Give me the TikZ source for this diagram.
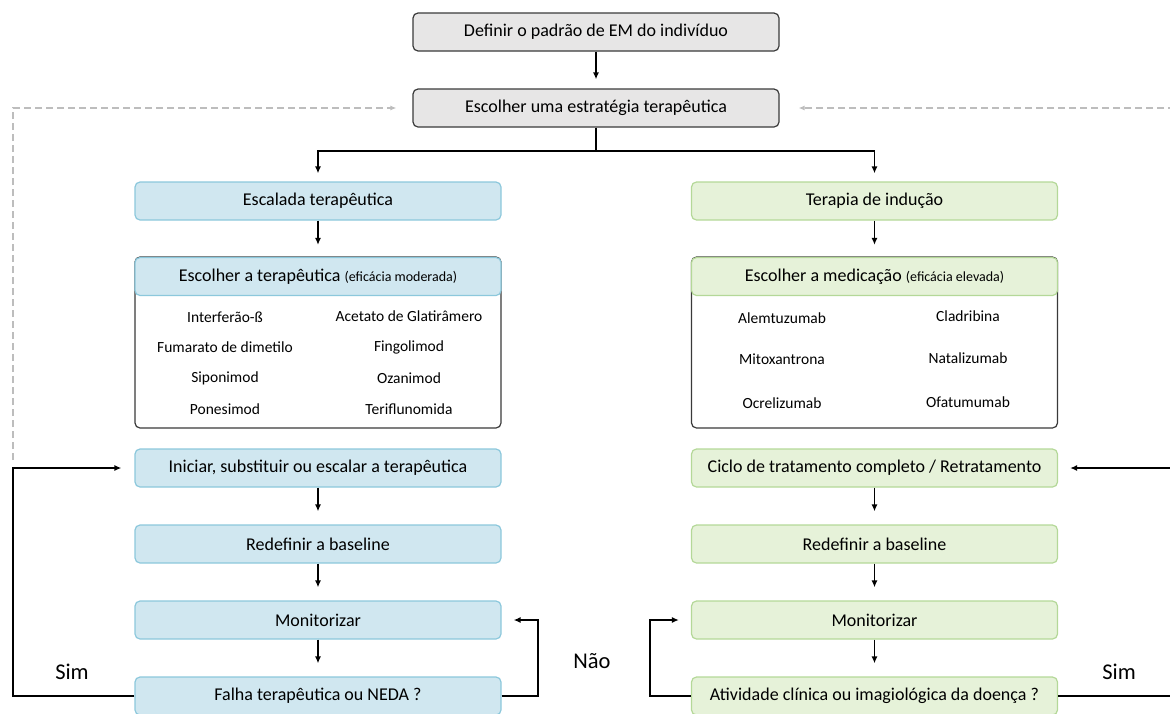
\documentclass[tikz,border=0pt]{standalone}
\usepackage{fontspec}
\setmainfont{Carlito}
\usetikzlibrary{arrows.meta}
\definecolor{gfill}{HTML}{E7E6E6}
\definecolor{gdraw}{HTML}{3A3A3A}
\definecolor{bfill}{HTML}{D0E7F0}
\definecolor{bdraw}{HTML}{8CC8DC}
\definecolor{grfill}{HTML}{E6F2D9}
\definecolor{grdraw}{HTML}{B4D898}
\definecolor{dashc}{HTML}{BDBDBD}
\tikzset{
  basebox/.style={rounded corners=5pt, minimum width=366pt, minimum height=38pt, line width=1.2pt, inner sep=0pt,
    font=\fontsize{18}{21}\selectfont},
  gbox/.style={basebox, draw=gdraw, fill=gfill},
  bbox/.style={basebox, draw=bdraw, fill=bfill},
  grbox/.style={basebox, draw=grdraw, fill=grfill},
  listbox/.style={rounded corners=5pt, minimum width=366pt, minimum height=171pt, line width=1.2pt, draw=gdraw, fill=white},
  item/.style={font=\fontsize{15.5}{18}\selectfont, inner sep=0pt},
  arr/.style={line width=1.8pt, -{Latex[length=7pt,width=6pt]}},
  darr/.style={line width=2pt, dashc, dash pattern=on 7pt off 4pt, -{Latex[length=6pt,width=5pt]}},
  lab/.style={font=\fontsize{22.5}{26}\selectfont, inner sep=0pt}
}
\newcommand{\sm}[1]{{\fontsize{14}{16}\selectfont #1}}
\begin{document}
\begin{tikzpicture}[x=1pt,y=-1pt]
\useasboundingbox (0,0) rectangle (1170,713);
\clip (0,0) rectangle (1170,713);
% top
\node[gbox] (def) at (596,32) {Definir o padrão de EM do indivíduo};
\node[gbox] (str) at (596,108) {Escolher uma estratégia terapêutica};
% left column
\node[bbox] (esc) at (318,201) {Escalada terapêutica};
\node[listbox] (listL) at (318,342.5) {};
\node[bbox] (hdrL) at (318,276.5) {Escolher a terapêutica \sm{(eficácia moderada)}};
\node[item] (l1) at (225,317) {Interferão-ß};
\node[item] (l2) at (225,347) {Fumarato de dimetilo};
\node[item] (l3) at (225,378) {Siponimod};
\node[item] (l4) at (225,409) {Ponesimod};
\node[item] (l5) at (409,316) {Acetato de Glatirâmero};
\node[item] (l6) at (409,347) {Fingolimod};
\node[item] (l7) at (409,378) {Ozanimod};
\node[item] (l8) at (409,409) {Teriflunomida};
\node[bbox] (iniL) at (318,468) {Iniciar, substituir ou escalar a terapêutica};
\node[bbox] (redL) at (318,544) {Redefinir a baseline};
\node[bbox] (monL) at (318,620) {Monitorizar};
\node[bbox] (falL) at (318,696) {Falha terapêutica ou NEDA ?};
% right column
\node[grbox] (ind) at (874.5,201) {Terapia de indução};
\node[listbox] (listR) at (874.5,342.5) {};
\node[grbox] (hdrR) at (874.5,276.5) {Escolher a medicação \sm{(eficácia elevada)}};
\node[item] (r1) at (782,318) {Alemtuzumab};
\node[item] (r2) at (782,359) {Mitoxantrona};
\node[item] (r3) at (782,403) {Ocrelizumab};
\node[item] (r4) at (968,316) {Cladribina};
\node[item] (r5) at (968,358) {Natalizumab};
\node[item] (r6) at (968,402) {Ofatumumab};
\node[grbox] (cicR) at (874.5,468) {Ciclo de tratamento completo / Retratamento};
\node[grbox] (redR) at (874.5,544) {Redefinir a baseline};
\node[grbox] (monR) at (874.5,620) {Monitorizar};
\node[grbox] (atvR) at (874.5,696) {Atividade clínica ou imagiológica da doença ?};
% labels
\node[lab] (simL) at (72,672) {Sim};
\node[lab] (nao) at (592,661) {Não};
\node[lab] (simR) at (1119,672) {Sim};
% coordinates for free ends
\coordinate (dl) at (13,460);
\coordinate (dr) at (1175,108);
% connectors
\draw[arr, shorten >=9pt] (def) -- (str);
\draw[arr, shorten >=8pt] (str.south) -- ++(0,23) -| (esc.north);
\draw[arr, shorten >=8pt] (str.south) -- ++(0,23) -| (ind.north);
\draw[arr, shorten >=12pt] (esc) -- (hdrL);
\draw[arr, shorten >=12pt] (ind) -- (hdrR);
\draw[arr, shorten >=13pt] (iniL) -- (redL);
\draw[arr, shorten >=13pt] (redL) -- (monL);
\draw[arr, shorten >=13pt] (monL) -- (falL);
\draw[arr, shorten >=13pt] (cicR) -- (redR);
\draw[arr, shorten >=13pt] (redR) -- (monR);
\draw[arr, shorten >=13pt] (monR) -- (atvR);
% loops
\draw[arr, shorten >=13pt] (falL.west) -- (13,696) |- (iniL.west);
\draw[arr, shorten >=12pt] (falL.east) -- (538,696) |- (monL.east);
\draw[arr, shorten >=12pt] (atvR.west) -- (650,696) |- (monR.west);
\draw[arr, shorten >=12pt] (atvR.east) -- (1185,696) |- (cicR.east);
% dashed
\draw[darr, shorten >=16pt] (dl) |- (str.west);
\draw[darr, shorten >=19pt] (dr) -- (str.east);
\end{tikzpicture}
\end{document}
